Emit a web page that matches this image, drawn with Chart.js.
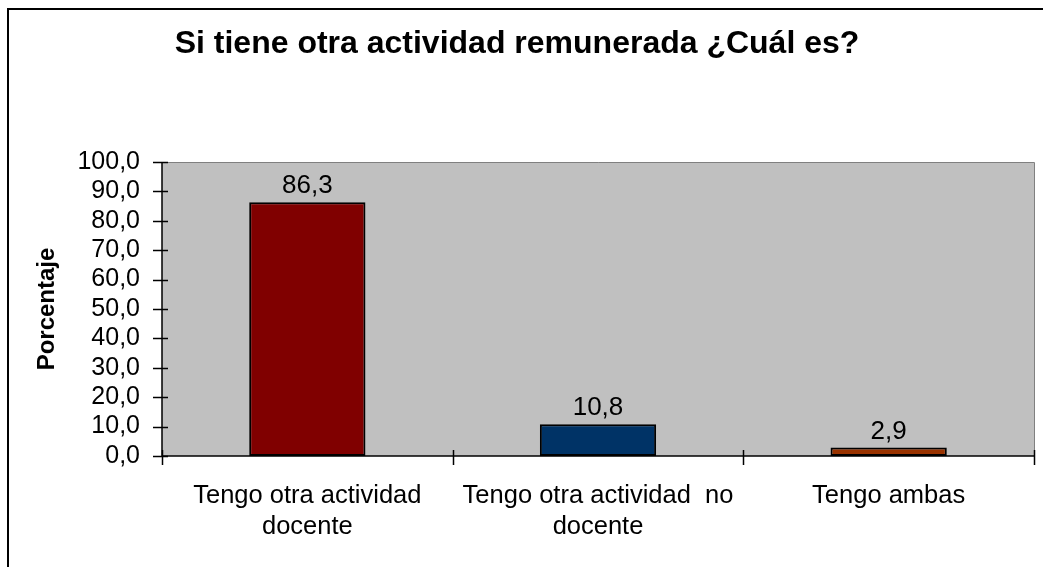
<!DOCTYPE html>
<html>
<head>
  <meta charset="UTF-8">
  <title>Si tiene otra actividad remunerada ¿Cuál es?</title>
  <script src="https://cdn.jsdelivr.net/npm/chart.js"></script>
  <style>
    body {
      margin: 0;
      background-color: #fff;
    }

    #chart-container {
      width: 1043px;
      height: 567px;
      position: relative;
    }
  </style>
</head>
<body>
  <div id="chart-container">
    <canvas id="actividadChart"></canvas>
  </div>

  <script>
    // datos
    var categorias = [
      ['Tengo otra actividad', 'docente'],
      ['Tengo otra actividad  no', 'docente'],
      'Tengo ambas'
    ];
    var porcentajes = [86.3, 10.8, 2.9];
    var colores = ['#800000', '#003366', '#993300'];
    var yMin = 0;
    var yMax = 100;
    var yPaso = 10;

    var fuente = "'Liberation Sans', Arial, sans-serif";

    function formatoComa(v) {
      return Number(v).toFixed(1).replace('.', ',');
    }

    // fondo gris del area, marco exterior, ejes con marcas cruzadas y etiquetas de valor
    var marcoPlugin = {
      id: 'marco',
      beforeDraw: function (chart) {
        var ctx = chart.ctx;
        var a = chart.chartArea;
        ctx.save();
        ctx.fillStyle = '#fff';
        ctx.fillRect(0, 0, chart.width, chart.height);
        ctx.fillStyle = '#c0c0c0';
        ctx.fillRect(a.left, a.top, a.right - a.left, a.bottom - a.top);
        ctx.strokeStyle = '#808080';
        ctx.lineWidth = 1;
        ctx.beginPath();
        ctx.moveTo(a.left, a.top + 0.5);
        ctx.lineTo(a.right + 0.5, a.top + 0.5);
        ctx.lineTo(a.right + 0.5, a.bottom);
        ctx.stroke();
        // marco exterior (se corta a la derecha y abajo)
        ctx.strokeStyle = '#000';
        ctx.lineWidth = 2;
        ctx.strokeRect(8, 9, chart.width + 20, chart.height + 20);
        ctx.restore();
      },
      afterDatasetsDraw: function (chart) {
        var ctx = chart.ctx;
        var a = chart.chartArea;
        var xs = chart.scales.x;
        var ys = chart.scales.y;
        ctx.save();
        ctx.strokeStyle = '#000';
        ctx.lineWidth = 1.5;
        ctx.beginPath();
        ctx.moveTo(a.left, a.top);
        ctx.lineTo(a.left, a.bottom);
        ctx.lineTo(a.right, a.bottom);
        ctx.stroke();

        ctx.beginPath();
        ys.ticks.forEach(function (t, i) {
          var y = Math.round(ys.getPixelForTick(i)) + 0.5;
          ctx.moveTo(a.left - 9, y);
          ctx.lineTo(a.left + 6, y);
        });
        for (var i = 0; i <= categorias.length; i++) {
          var x = Math.round(xs.getPixelForValue(i - 0.5)) + 0.5;
          ctx.moveTo(x, a.bottom - 6);
          ctx.lineTo(x, a.bottom + 9);
        }
        ctx.stroke();

        // etiquetas de valor sobre las barras
        var meta = chart.getDatasetMeta(0);
        ctx.fillStyle = '#000';
        ctx.font = '26px ' + fuente;
        ctx.textAlign = 'center';
        ctx.textBaseline = 'bottom';
        meta.data.forEach(function (bar, i) {
          ctx.fillText(formatoComa(porcentajes[i]), bar.x, bar.y - 3);
        });
        ctx.restore();
      }
    };

    var ctx = document.getElementById('actividadChart').getContext('2d');
    var actividadChart = new Chart(ctx, {
      type: 'bar',
      data: {
        labels: categorias,
        datasets: [{
          data: porcentajes,
          backgroundColor: colores,
          borderColor: '#000',
          borderWidth: 2,
          borderSkipped: false,
          barPercentage: 0.4,
          categoryPercentage: 1.0
        }]
      },
      options: {
        responsive: true,
        maintainAspectRatio: false,
        animation: false,
        layout: {
          padding: { left: 0, top: 0, right: 9, bottom: 0 }
        },
        plugins: {
          legend: { display: false },
          tooltip: { enabled: false },
          title: {
            display: true,
            text: 'Si tiene otra actividad remunerada ¿Cuál es?',
            color: '#000',
            font: { family: fuente, size: 32, weight: 'bold', lineHeight: 1.2 },
            padding: { top: 25, bottom: 98.6 }
          }
        },
        scales: {
          x: {
            grid: { display: false, drawTicks: false },
            border: { display: false },
            ticks: {
              color: '#000',
              font: { family: fuente, size: 25.5, lineHeight: 1.22 },
              padding: 24,
              maxRotation: 0,
              autoSkip: false
            },
            afterFit: function (scale) {
              scale.height = 111;
            }
          },
          y: {
            min: yMin,
            max: yMax,
            grid: { display: false, drawTicks: false },
            border: { display: false },
            ticks: {
              stepSize: yPaso,
              autoSkip: false,
              color: '#000',
              font: { family: fuente, size: 25 },
              padding: 22,
              callback: function (v) { return formatoComa(v); }
            },
            title: {
              display: true,
              text: 'Porcentaje',
              color: '#000',
              font: { family: fuente, size: 24, weight: 'bold', lineHeight: 1.2 },
              padding: { top: 33, bottom: 0 }
            },
            afterFit: function (scale) {
              scale.width = 162;
            }
          }
        }
      },
      plugins: [marcoPlugin]
    });
  </script>
</body>
</html>
